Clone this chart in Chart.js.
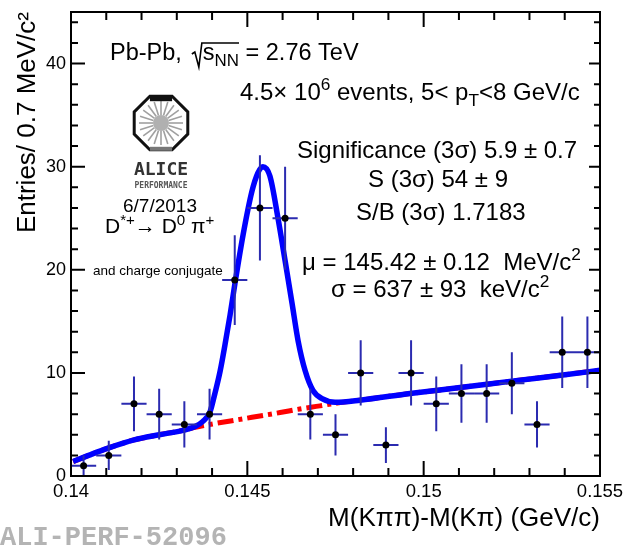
<!DOCTYPE html>
<html>
<head>
<meta charset="utf-8">
<title>D*+ invariant mass difference</title>
<script src="https://cdn.jsdelivr.net/npm/chart.js"></script>
<style>
  html, body { margin: 0; padding: 0; background: #fff; }
  #wrap { width: 624px; height: 549px; }
</style>
</head>
<body>
<div id="wrap"><canvas id="myChart" width="624" height="549"></canvas></div>
<script>
// histogram: 21 bins between 0.140 and 0.155 GeV/c^2
const binCenters = [0.140357, 0.141071, 0.141786, 0.142500, 0.143214, 0.143929, 0.144643,
  0.145357, 0.146071, 0.146786, 0.147500, 0.148214, 0.148929, 0.149643, 0.150357,
  0.151071, 0.151786, 0.152500, 0.153214, 0.153929, 0.154643];
const entries = [1, 2, 7, 6, 5, 6, 19, 26, 25, 6, 4, 10, 3, 10, 7, 8, 8, 9, 5, 12, 12];
const entryErrors = [1.00, 1.41, 2.65, 2.45, 2.24, 2.45, 4.36, 5.10, 5.00, 2.45, 2.00,
  3.16, 1.73, 3.16, 2.65, 2.83, 2.83, 3.00, 2.24, 3.46, 3.46];
const binWidth = 0.000714;

// total fit (signal + background)
const fitX = [0.14006, 0.14054, 0.14105, 0.14179, 0.14250, 0.14320, 0.14352, 0.14374,
  0.14394, 0.14408, 0.14423, 0.14437, 0.14451, 0.14465, 0.14488, 0.14513, 0.14530,
  0.14544, 0.14564, 0.14587, 0.14607, 0.14627, 0.14644, 0.14664, 0.14686, 0.14712,
  0.14749, 0.14819, 0.14961, 0.15109, 0.15250, 0.15395, 0.15500];
const fitY = [1.4, 2.05, 2.7, 3.5, 4.0, 4.45, 4.8, 5.3,
  6.2, 8.0, 10.2, 12.8, 15.6, 18.7, 23.4, 27.6, 29.4,
  30.0, 29.1, 25.0, 20.9, 16.7, 13.1, 10.2, 8.3, 7.5,
  7.15, 7.35, 8.0, 8.6, 9.2, 9.8, 10.25];

// background only
const bkgX = [0.14006, 0.14054, 0.14105, 0.14179, 0.14250, 0.14320, 0.14352, 0.14391,
  0.14471, 0.14550, 0.14593, 0.14649, 0.14706, 0.14749, 0.14819, 0.14961, 0.15109,
  0.15250, 0.15395, 0.15500];
const bkgY = [1.4, 2.05, 2.7, 3.5, 4.0, 4.45, 4.72, 4.98,
  5.45, 5.9, 6.15, 6.5, 6.8, 7.05, 7.35, 8.0, 8.6,
  9.2, 9.8, 10.25];

const xTicks = [0.14, 0.145, 0.15, 0.155];
const yTicks = [0, 10, 20, 30, 40];

const FONT = '"Liberation Sans", Arial, sans-serif';

// frame with ROOT-style inward ticks on all four sides
const frameTicks = {
  id: 'frameTicks',
  afterDatasetsDraw(chart) {
    const { ctx: c, chartArea: a, scales: { x, y } } = chart;
    c.save();
    c.strokeStyle = '#000';
    c.lineWidth = 2;
    c.strokeRect(a.left, a.top, a.right - a.left, a.bottom - a.top);
    c.beginPath();
    for (let k = 140; k <= 155; k++) {
      const px = x.getPixelForValue(k / 1000);
      const len = k % 5 === 0 ? 15 : 8;
      c.moveTo(px, a.bottom); c.lineTo(px, a.bottom - len);
      c.moveTo(px, a.top); c.lineTo(px, a.top + len);
    }
    for (let k = 0; k <= 44; k += 2) {
      const py = y.getPixelForValue(k);
      const major = k % 10 === 0;
      c.moveTo(a.left, py); c.lineTo(a.left + (major ? 14 : 7), py);
      c.moveTo(a.right, py); c.lineTo(a.right - (major ? 11 : 6), py);
    }
    c.stroke();
    c.restore();
  }
};

// vertical stat errors and horizontal bin-width bars
const errorBars = {
  id: 'errorBars',
  beforeDatasetDraw(chart, args) {
    if (args.index !== 0) return;
    const { ctx: c, chartArea: a, scales: { x, y } } = chart;
    c.save();
    c.beginPath();
    c.rect(a.left, a.top, a.right - a.left, a.bottom - a.top);
    c.clip();
    c.strokeStyle = '#2b2bb0';
    c.lineWidth = 2;
    c.beginPath();
    binCenters.forEach((bx, i) => {
      const px = x.getPixelForValue(bx);
      const py = y.getPixelForValue(entries[i]);
      c.moveTo(px, y.getPixelForValue(entries[i] - entryErrors[i]));
      c.lineTo(px, y.getPixelForValue(entries[i] + entryErrors[i]));
      c.moveTo(x.getPixelForValue(bx - binWidth / 2), py);
      c.lineTo(x.getPixelForValue(bx + binWidth / 2), py);
    });
    c.stroke();
    c.restore();
  }
};

// text with sub/superscript pieces, returns end x
function richText(c, x, y, parts, size) {
  let cx = x;
  for (const [txt, kind] of parts) {
    const s = kind ? size * 0.72 : size;
    const dy = kind === 'sup' ? -size * 0.4 : kind === 'sub' ? size * 0.25 : 0;
    c.font = s + 'px ' + FONT;
    c.fillText(txt, cx, y + dy);
    cx += c.measureText(txt).width;
  }
  return cx;
}

function drawLogo(c, cx, cy) {
  const R = 29;
  c.save();
  c.strokeStyle = '#a0a0a0';
  c.lineWidth = 1.6;
  for (let k = 0; k < 20; k++) {
    const t = k * Math.PI * 2 / 20;
    c.beginPath();
    c.moveTo(cx + 8 * Math.cos(t), cy + 8 * Math.sin(t));
    c.lineTo(cx + 22 * Math.cos(t), cy + 22 * Math.sin(t));
    c.stroke();
  }
  c.fillStyle = '#b0b0b0';
  c.beginPath(); c.arc(cx, cy, 8, 0, Math.PI * 2); c.fill();
  const pts = [];
  for (let k = 0; k < 8; k++) {
    const t = Math.PI / 8 + k * Math.PI / 4;
    pts.push([cx + R * Math.cos(t), cy + R * Math.sin(t)]);
  }
  c.strokeStyle = '#111';
  c.lineWidth = 3;
  c.beginPath();
  pts.forEach(([px, py], i) => i ? c.lineTo(px, py) : c.moveTo(px, py));
  c.closePath();
  c.stroke();
  c.lineWidth = 6;
  c.beginPath(); c.moveTo(pts[5][0], pts[5][1] + 2); c.lineTo(pts[6][0], pts[6][1] + 2); c.stroke();
  c.strokeStyle = '#777';
  c.lineWidth = 4;
  c.beginPath(); c.moveTo(pts[1][0], pts[1][1] - 1); c.lineTo(pts[2][0], pts[2][1] - 1); c.stroke();
  c.fillStyle = '#333';
  c.textAlign = 'center';
  c.font = 'bold 18px "DejaVu Sans Mono", monospace';
  c.fillText('ALICE', cx, cy + 52);
  c.font = 'bold 8px "DejaVu Sans Mono", monospace';
  c.fillStyle = '#555';
  c.fillText('PERFORMANCE', cx, cy + 65);
  c.restore();
}

const labels = {
  id: 'labels',
  afterDraw(chart) {
    const c = chart.ctx;
    c.save();
    c.fillStyle = '#000';
    c.textBaseline = 'alphabetic';
    c.textAlign = 'left';
    const S = 24;

    // Pb-Pb, sqrt(s_NN) = 2.76 TeV
    let cx = richText(c, 110, 60, [['Pb-Pb,', '']], 23.5) + 10;
    const rx = cx;
    cx = richText(c, cx + 11, 60, [['s', ''], ['NN', 'sub']], 23.5);
    c.strokeStyle = '#000';
    c.lineWidth = 1.6;
    c.beginPath();
    c.moveTo(rx, 54); c.lineTo(rx + 3, 52); c.lineTo(rx + 7, 67); c.lineTo(rx + 10, 43); c.lineTo(cx, 43);
    c.stroke();
    richText(c, cx, 60, [[' = 2.76 TeV', '']], 23.5);

    richText(c, 240, 100, [['4.5\u00d7 10', ''], ['6', 'sup'], [' events, 5< p', ''], ['T', 'sub'], ['<8 GeV/c', '']], S);
    richText(c, 297, 158, [['Significance (3\u03c3) 5.9 \u00b1 0.7', '']], S);
    richText(c, 368, 187, [['S (3\u03c3) 54 \u00b1 9', '']], S);
    richText(c, 356, 220, [['S/B (3\u03c3) 1.7183', '']], S);
    richText(c, 302, 270, [['\u03bc = 145.42 \u00b1 0.12  MeV/c', ''], ['2', 'sup']], S);
    richText(c, 331, 297, [['\u03c3 = 637 \u00b1 93  keV/c', ''], ['2', 'sup']], S);

    richText(c, 123, 212, [['6/7/2013', '']], 19);
    richText(c, 105, 233, [['D', ''], ['*+', 'sup'], ['\u2192 D', ''], ['0', 'sup'], [' \u03c0', ''], ['+', 'sup']], 21);
    richText(c, 93, 275, [['and charge conjugate', '']], 13.5);

    drawLogo(c, 161, 123);

    c.font = 'bold 27px "Liberation Mono", "Courier New", monospace';
    c.fillStyle = '#b4b4b4';
    c.fillText('ALI-PERF-52096', 0, 545);
    c.restore();
  }
};

const ctx = document.getElementById('myChart').getContext('2d');

const chart = new Chart(ctx, {
  type: 'scatter',
  data: {
    datasets: [
      {
        label: 'data',
        data: binCenters.map((x, i) => ({ x: x, y: entries[i] })),
        pointRadius: 3.5,
        pointHoverRadius: 3.5,
        pointBackgroundColor: '#000',
        pointBorderWidth: 0,
        showLine: false,
        order: 1
      },
      {
        label: 'fit',
        data: fitX.map((x, i) => ({ x: x, y: fitY[i] })),
        showLine: true,
        borderColor: '#0000ff',
        borderWidth: 5.5,
        pointRadius: 0,
        pointHoverRadius: 0,
        cubicInterpolationMode: 'monotone',
        order: 2
      },
      {
        label: 'background',
        data: bkgX.map((x, i) => ({ x: x, y: bkgY[i] })),
        showLine: true,
        borderColor: '#ff0000',
        borderWidth: 5,
        borderDash: [16, 5, 4, 5],
        pointRadius: 0,
        pointHoverRadius: 0,
        cubicInterpolationMode: 'monotone',
        order: 3
      }
    ]
  },
  options: {
    responsive: false,
    animation: false,
    devicePixelRatio: 1,
    layout: { padding: { top: 12, right: 24, left: 0, bottom: 0 } },
    plugins: {
      legend: { display: false },
      tooltip: { enabled: false }
    },
    scales: {
      x: {
        type: 'linear',
        min: 0.14,
        max: 0.155,
        grid: { display: false, drawTicks: false },
        border: { display: false },
        afterBuildTicks: s => { s.ticks = xTicks.map(v => ({ value: v })); },
        afterFit: s => { s.height = 73; s.paddingLeft = 0; s.paddingRight = 0; },
        ticks: {
          color: '#000',
          font: { family: FONT, size: 18.5 },
          padding: 5,
          maxRotation: 0,
          autoSkip: false,
          callback: v => String(+v.toFixed(3))
        },
        title: {
          display: true,
          text: 'M(K\u03c0\u03c0)-M(K\u03c0) (GeV/c)',
          align: 'end',
          color: '#000',
          font: { family: FONT, size: 26 },
          padding: { top: 0, bottom: 15 }
        }
      },
      y: {
        min: 0,
        max: 45,
        grid: { display: false, drawTicks: false },
        border: { display: false },
        afterBuildTicks: s => { s.ticks = yTicks.map(v => ({ value: v })); },
        afterFit: s => { s.width = 71; s.paddingTop = 0; s.paddingBottom = 0; },
        ticks: {
          color: '#000',
          font: { family: FONT, size: 18 },
          padding: 5
        },
        title: {
          display: true,
          text: 'Entries/ 0.7 MeV/c\u00b2',
          align: 'end',
          color: '#000',
          font: { family: FONT, size: 26 },
          padding: { top: 12, bottom: 0 }
        }
      }
    }
  },
  plugins: [errorBars, frameTicks, labels]
});
</script>
</body>
</html>
